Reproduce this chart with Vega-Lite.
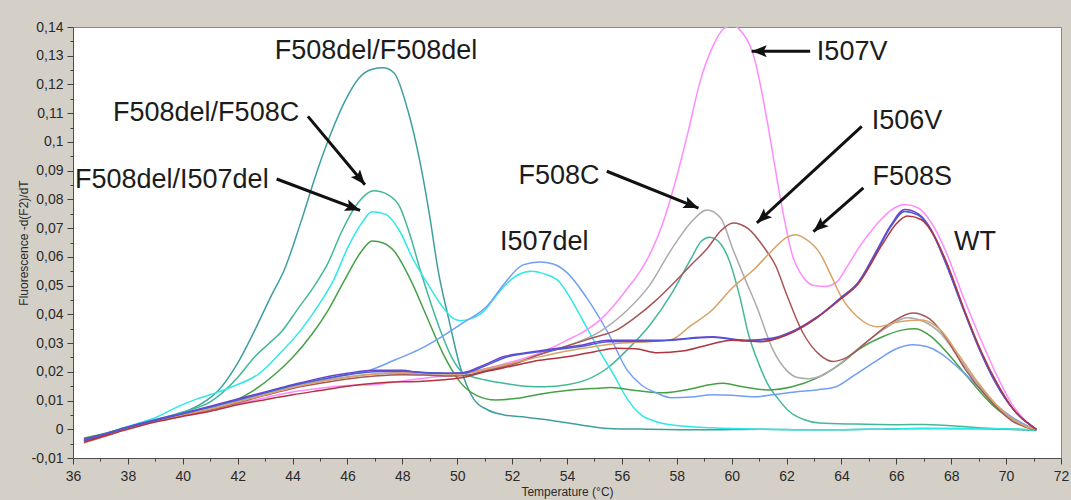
{
"$schema": "https://vega.github.io/schema/vega-lite/v6.json",
"width": 988, "height": 431,
"autosize": {"type": "none"},
"padding": {"left": 73, "top": 27, "right": 10, "bottom": 42},
"background": "#d4d0c8",
"config": {
 "view": {"fill": "#ffffff", "stroke": "#8a8a8a", "strokeWidth": 1},
 "axis": {"grid": false, "domainColor": "#505050", "tickColor": "#404040", "labelFont": "Liberation Sans", "labelFontSize": 14, "labelColor": "#2a2a2a", "titleFont": "Liberation Sans", "titleFontSize": 12, "titleFontWeight": "normal", "titleColor": "#2a2a2a", "labelOverlap": false, "labelFlush": false}
},
"resolve": {"axis": {"x": "independent", "y": "independent"}},
"datasets": {
"curves": [
{"s":"F508del/F508del","t":36.4,"v":-0.0042},{"s":"F508del/F508del","t":37,"v":-0.0025},{"s":"F508del/F508del","t":38,"v":0.0005},{"s":"F508del/F508del","t":39,"v":0.003},{"s":"F508del/F508del","t":40,"v":0.0058},{"s":"F508del/F508del","t":40.7,"v":0.009},{"s":"F508del/F508del","t":41.3,"v":0.0135},{"s":"F508del/F508del","t":42,"v":0.023},{"s":"F508del/F508del","t":42.6,"v":0.034},{"s":"F508del/F508del","t":43.2,"v":0.046},{"s":"F508del/F508del","t":43.7,"v":0.0555},{"s":"F508del/F508del","t":44.3,"v":0.072},{"s":"F508del/F508del","t":44.9,"v":0.09},{"s":"F508del/F508del","t":45.4,"v":0.103},{"s":"F508del/F508del","t":45.9,"v":0.114},{"s":"F508del/F508del","t":46.4,"v":0.122},{"s":"F508del/F508del","t":46.9,"v":0.1253},{"s":"F508del/F508del","t":47.3,"v":0.1258},{"s":"F508del/F508del","t":47.7,"v":0.124},{"s":"F508del/F508del","t":48.2,"v":0.111},{"s":"F508del/F508del","t":48.65,"v":0.0927},{"s":"F508del/F508del","t":49,"v":0.074},{"s":"F508del/F508del","t":49.3,"v":0.0555},{"s":"F508del/F508del","t":49.7,"v":0.038},{"s":"F508del/F508del","t":50.1,"v":0.022},{"s":"F508del/F508del","t":50.6,"v":0.0105},{"s":"F508del/F508del","t":51.1,"v":0.0068},{"s":"F508del/F508del","t":51.7,"v":0.005},{"s":"F508del/F508del","t":52.5,"v":0.0042},{"s":"F508del/F508del","t":53.5,"v":0.003},{"s":"F508del/F508del","t":54.5,"v":0.0015},{"s":"F508del/F508del","t":55.5,"v":0.0003},{"s":"F508del/F508del","t":57,"v":0},{"s":"F508del/F508del","t":59,"v":-0.0002},{"s":"F508del/F508del","t":61,"v":0},{"s":"F508del/F508del","t":63,"v":-0.0002},{"s":"F508del/F508del","t":65,"v":0},{"s":"F508del/F508del","t":67,"v":0.0003},{"s":"F508del/F508del","t":69,"v":0.0002},{"s":"F508del/F508del","t":70.5,"v":-0.0002},{"s":"F508del/F508del","t":71.1,"v":-0.0004},
{"s":"F508del/F508C","t":36.4,"v":-0.0035},{"s":"F508del/F508C","t":37,"v":-0.002},{"s":"F508del/F508C","t":38,"v":0.0008},{"s":"F508del/F508C","t":39,"v":0.0033},{"s":"F508del/F508C","t":40,"v":0.006},{"s":"F508del/F508C","t":41,"v":0.0095},{"s":"F508del/F508C","t":42,"v":0.018},{"s":"F508del/F508C","t":42.6,"v":0.025},{"s":"F508del/F508C","t":43.1,"v":0.0295},{"s":"F508del/F508C","t":43.6,"v":0.034},{"s":"F508del/F508C","t":44.2,"v":0.042},{"s":"F508del/F508C","t":44.8,"v":0.05},{"s":"F508del/F508C","t":45.3,"v":0.058},{"s":"F508del/F508C","t":45.8,"v":0.069},{"s":"F508del/F508C","t":46.4,"v":0.079},{"s":"F508del/F508C","t":46.95,"v":0.083},{"s":"F508del/F508C","t":47.5,"v":0.0815},{"s":"F508del/F508C","t":47.9,"v":0.0775},{"s":"F508del/F508C","t":48.3,"v":0.067},{"s":"F508del/F508C","t":48.65,"v":0.0555},{"s":"F508del/F508C","t":49,"v":0.045},{"s":"F508del/F508C","t":49.4,"v":0.034},{"s":"F508del/F508C","t":49.8,"v":0.025},{"s":"F508del/F508C","t":50.2,"v":0.0197},{"s":"F508del/F508C","t":51,"v":0.0172},{"s":"F508del/F508C","t":51.7,"v":0.016},{"s":"F508del/F508C","t":52.5,"v":0.015},{"s":"F508del/F508C","t":53.2,"v":0.0148},{"s":"F508del/F508C","t":54,"v":0.0155},{"s":"F508del/F508C","t":54.7,"v":0.0172},{"s":"F508del/F508C","t":55.5,"v":0.0215},{"s":"F508del/F508C","t":56.2,"v":0.0277},{"s":"F508del/F508C","t":57,"v":0.036},{"s":"F508del/F508C","t":57.8,"v":0.047},{"s":"F508del/F508C","t":58.5,"v":0.059},{"s":"F508del/F508C","t":58.9,"v":0.0655},{"s":"F508del/F508C","t":59.2,"v":0.0668},{"s":"F508del/F508C","t":59.6,"v":0.0645},{"s":"F508del/F508C","t":59.9,"v":0.059},{"s":"F508del/F508C","t":60.3,"v":0.046},{"s":"F508del/F508C","t":60.6,"v":0.0335},{"s":"F508del/F508C","t":61,"v":0.0225},{"s":"F508del/F508C","t":61.3,"v":0.016},{"s":"F508del/F508C","t":61.7,"v":0.0105},{"s":"F508del/F508C","t":62.1,"v":0.0062},{"s":"F508del/F508C","t":62.6,"v":0.0035},{"s":"F508del/F508C","t":63.2,"v":0.0022},{"s":"F508del/F508C","t":64.5,"v":0.0018},{"s":"F508del/F508C","t":66,"v":0.0016},{"s":"F508del/F508C","t":67,"v":0.0017},{"s":"F508del/F508C","t":68,"v":0.0012},{"s":"F508del/F508C","t":69.5,"v":0.0003},{"s":"F508del/F508C","t":70.5,"v":0},{"s":"F508del/F508C","t":71.1,"v":-0.0003},
{"s":"F508del/I507del","t":36.4,"v":-0.0038},{"s":"F508del/I507del","t":37,"v":-0.0022},{"s":"F508del/I507del","t":38,"v":0.001},{"s":"F508del/I507del","t":39,"v":0.004},{"s":"F508del/I507del","t":39.8,"v":0.0078},{"s":"F508del/I507del","t":40.5,"v":0.0105},{"s":"F508del/I507del","t":41,"v":0.012},{"s":"F508del/I507del","t":41.8,"v":0.0148},{"s":"F508del/I507del","t":42.8,"v":0.0195},{"s":"F508del/I507del","t":43.5,"v":0.026},{"s":"F508del/I507del","t":44.3,"v":0.0345},{"s":"F508del/I507del","t":45,"v":0.044},{"s":"F508del/I507del","t":45.5,"v":0.052},{"s":"F508del/I507del","t":46,"v":0.063},{"s":"F508del/I507del","t":46.5,"v":0.0715},{"s":"F508del/I507del","t":46.9,"v":0.0757},{"s":"F508del/I507del","t":47.4,"v":0.0748},{"s":"F508del/I507del","t":47.9,"v":0.069},{"s":"F508del/I507del","t":48.4,"v":0.059},{"s":"F508del/I507del","t":48.9,"v":0.051},{"s":"F508del/I507del","t":49.4,"v":0.0435},{"s":"F508del/I507del","t":49.8,"v":0.039},{"s":"F508del/I507del","t":50.1,"v":0.0378},{"s":"F508del/I507del","t":50.5,"v":0.0385},{"s":"F508del/I507del","t":50.9,"v":0.0405},{"s":"F508del/I507del","t":51.3,"v":0.045},{"s":"F508del/I507del","t":51.7,"v":0.0497},{"s":"F508del/I507del","t":52.2,"v":0.0537},{"s":"F508del/I507del","t":52.7,"v":0.055},{"s":"F508del/I507del","t":53.2,"v":0.054},{"s":"F508del/I507del","t":53.7,"v":0.0515},{"s":"F508del/I507del","t":54.1,"v":0.046},{"s":"F508del/I507del","t":54.7,"v":0.0357},{"s":"F508del/I507del","t":55.2,"v":0.027},{"s":"F508del/I507del","t":55.7,"v":0.019},{"s":"F508del/I507del","t":56.2,"v":0.0105},{"s":"F508del/I507del","t":56.7,"v":0.005},{"s":"F508del/I507del","t":57.2,"v":0.0028},{"s":"F508del/I507del","t":58,"v":0.0013},{"s":"F508del/I507del","t":59.3,"v":0.0005},{"s":"F508del/I507del","t":61,"v":0},{"s":"F508del/I507del","t":63,"v":-0.0002},{"s":"F508del/I507del","t":65,"v":0},{"s":"F508del/I507del","t":67,"v":0.0003},{"s":"F508del/I507del","t":69,"v":0.0003},{"s":"F508del/I507del","t":70.5,"v":0},{"s":"F508del/I507del","t":71.1,"v":-0.0003},
{"s":"green","t":36.4,"v":-0.003},{"s":"green","t":37,"v":-0.0018},{"s":"green","t":38,"v":0.0008},{"s":"green","t":39,"v":0.003},{"s":"green","t":40,"v":0.005},{"s":"green","t":41,"v":0.007},{"s":"green","t":41.8,"v":0.0095},{"s":"green","t":42.5,"v":0.013},{"s":"green","t":43.4,"v":0.0195},{"s":"green","t":44,"v":0.025},{"s":"green","t":44.7,"v":0.033},{"s":"green","t":45.3,"v":0.0415},{"s":"green","t":45.9,"v":0.052},{"s":"green","t":46.5,"v":0.0618},{"s":"green","t":46.9,"v":0.0655},{"s":"green","t":47.3,"v":0.0648},{"s":"green","t":47.7,"v":0.062},{"s":"green","t":48.3,"v":0.052},{"s":"green","t":48.9,"v":0.039},{"s":"green","t":49.5,"v":0.026},{"s":"green","t":50.1,"v":0.0165},{"s":"green","t":50.7,"v":0.0118},{"s":"green","t":51.4,"v":0.0102},{"s":"green","t":52.2,"v":0.0108},{"s":"green","t":53,"v":0.0122},{"s":"green","t":54,"v":0.0135},{"s":"green","t":55,"v":0.0142},{"s":"green","t":55.6,"v":0.0145},{"s":"green","t":56.5,"v":0.0135},{"s":"green","t":57.5,"v":0.0127},{"s":"green","t":58.5,"v":0.014},{"s":"green","t":59.2,"v":0.0155},{"s":"green","t":59.7,"v":0.016},{"s":"green","t":60.3,"v":0.015},{"s":"green","t":61.3,"v":0.0137},{"s":"green","t":62.2,"v":0.0148},{"s":"green","t":63.1,"v":0.0178},{"s":"green","t":64,"v":0.023},{"s":"green","t":64.6,"v":0.0276},{"s":"green","t":65.5,"v":0.0322},{"s":"green","t":66.2,"v":0.0345},{"s":"green","t":66.7,"v":0.035},{"s":"green","t":67.3,"v":0.032},{"s":"green","t":68,"v":0.025},{"s":"green","t":68.7,"v":0.017},{"s":"green","t":69.5,"v":0.0085},{"s":"green","t":70.3,"v":0.003},{"s":"green","t":71.1,"v":-0.0002},
{"s":"I507del","t":36.4,"v":-0.0038},{"s":"I507del","t":37,"v":-0.0022},{"s":"I507del","t":38,"v":0.0008},{"s":"I507del","t":39,"v":0.003},{"s":"I507del","t":40,"v":0.0055},{"s":"I507del","t":41,"v":0.0075},{"s":"I507del","t":42,"v":0.0098},{"s":"I507del","t":43,"v":0.0125},{"s":"I507del","t":44,"v":0.015},{"s":"I507del","t":45,"v":0.017},{"s":"I507del","t":46,"v":0.019},{"s":"I507del","t":46.8,"v":0.0205},{"s":"I507del","t":47.7,"v":0.024},{"s":"I507del","t":48.6,"v":0.0277},{"s":"I507del","t":49.4,"v":0.032},{"s":"I507del","t":50.2,"v":0.037},{"s":"I507del","t":51.1,"v":0.043},{"s":"I507del","t":51.7,"v":0.0505},{"s":"I507del","t":52.4,"v":0.0572},{"s":"I507del","t":53,"v":0.0582},{"s":"I507del","t":53.5,"v":0.0575},{"s":"I507del","t":54,"v":0.0545},{"s":"I507del","t":54.7,"v":0.046},{"s":"I507del","t":55.5,"v":0.0335},{"s":"I507del","t":56.2,"v":0.0205},{"s":"I507del","t":56.7,"v":0.0155},{"s":"I507del","t":57.3,"v":0.0125},{"s":"I507del","t":57.8,"v":0.011},{"s":"I507del","t":58.5,"v":0.0112},{"s":"I507del","t":59.3,"v":0.012},{"s":"I507del","t":60,"v":0.0118},{"s":"I507del","t":60.8,"v":0.0113},{"s":"I507del","t":61.5,"v":0.012},{"s":"I507del","t":62.3,"v":0.013},{"s":"I507del","t":63.1,"v":0.0137},{"s":"I507del","t":63.8,"v":0.0148},{"s":"I507del","t":64.5,"v":0.019},{"s":"I507del","t":65.3,"v":0.024},{"s":"I507del","t":66,"v":0.028},{"s":"I507del","t":66.6,"v":0.0294},{"s":"I507del","t":67.1,"v":0.0288},{"s":"I507del","t":67.6,"v":0.0265},{"s":"I507del","t":68.3,"v":0.021},{"s":"I507del","t":69.1,"v":0.0137},{"s":"I507del","t":69.7,"v":0.008},{"s":"I507del","t":70.2,"v":0.0043},{"s":"I507del","t":71.1,"v":-0.0003},
{"s":"I507V","t":36.4,"v":-0.0045},{"s":"I507V","t":37,"v":-0.003},{"s":"I507V","t":38,"v":0.0003},{"s":"I507V","t":39,"v":0.0028},{"s":"I507V","t":40,"v":0.0045},{"s":"I507V","t":41,"v":0.0063},{"s":"I507V","t":42,"v":0.0088},{"s":"I507V","t":43,"v":0.011},{"s":"I507V","t":44,"v":0.013},{"s":"I507V","t":45,"v":0.0143},{"s":"I507V","t":46,"v":0.0152},{"s":"I507V","t":47,"v":0.0156},{"s":"I507V","t":48,"v":0.0168},{"s":"I507V","t":49,"v":0.018},{"s":"I507V","t":50,"v":0.019},{"s":"I507V","t":51,"v":0.021},{"s":"I507V","t":52,"v":0.0235},{"s":"I507V","t":53,"v":0.0265},{"s":"I507V","t":54,"v":0.031},{"s":"I507V","t":54.7,"v":0.0345},{"s":"I507V","t":55.2,"v":0.038},{"s":"I507V","t":55.7,"v":0.043},{"s":"I507V","t":56.2,"v":0.049},{"s":"I507V","t":56.7,"v":0.0555},{"s":"I507V","t":57.1,"v":0.0625},{"s":"I507V","t":57.5,"v":0.072},{"s":"I507V","t":57.9,"v":0.0845},{"s":"I507V","t":58.4,"v":0.103},{"s":"I507V","t":58.85,"v":0.121},{"s":"I507V","t":59.3,"v":0.133},{"s":"I507V","t":59.7,"v":0.1393},{"s":"I507V","t":60,"v":0.1405},{"s":"I507V","t":60.3,"v":0.139},{"s":"I507V","t":60.8,"v":0.13},{"s":"I507V","t":61.3,"v":0.107},{"s":"I507V","t":61.6,"v":0.09},{"s":"I507V","t":61.9,"v":0.074},{"s":"I507V","t":62.2,"v":0.061},{"s":"I507V","t":62.6,"v":0.053},{"s":"I507V","t":63,"v":0.05},{"s":"I507V","t":63.4,"v":0.0497},{"s":"I507V","t":63.8,"v":0.051},{"s":"I507V","t":64.2,"v":0.0565},{"s":"I507V","t":64.6,"v":0.0627},{"s":"I507V","t":65.3,"v":0.0715},{"s":"I507V","t":65.8,"v":0.0762},{"s":"I507V","t":66.3,"v":0.0782},{"s":"I507V","t":66.8,"v":0.077},{"s":"I507V","t":67.3,"v":0.0715},{"s":"I507V","t":67.8,"v":0.062},{"s":"I507V","t":68.4,"v":0.047},{"s":"I507V","t":69,"v":0.033},{"s":"I507V","t":69.6,"v":0.02},{"s":"I507V","t":70.2,"v":0.009},{"s":"I507V","t":70.7,"v":0.003},{"s":"I507V","t":71.1,"v":0},
{"s":"F508C","t":36.4,"v":-0.0038},{"s":"F508C","t":37,"v":-0.0022},{"s":"F508C","t":38,"v":0.0005},{"s":"F508C","t":39,"v":0.003},{"s":"F508C","t":40,"v":0.0052},{"s":"F508C","t":41,"v":0.0072},{"s":"F508C","t":42,"v":0.0098},{"s":"F508C","t":43,"v":0.0123},{"s":"F508C","t":44,"v":0.0148},{"s":"F508C","t":45,"v":0.0168},{"s":"F508C","t":46,"v":0.0183},{"s":"F508C","t":47,"v":0.0192},{"s":"F508C","t":48,"v":0.0195},{"s":"F508C","t":49,"v":0.0192},{"s":"F508C","t":50,"v":0.0193},{"s":"F508C","t":51,"v":0.0205},{"s":"F508C","t":52,"v":0.0228},{"s":"F508C","t":53,"v":0.026},{"s":"F508C","t":54,"v":0.029},{"s":"F508C","t":55.2,"v":0.034},{"s":"F508C","t":56.2,"v":0.0415},{"s":"F508C","t":57,"v":0.05},{"s":"F508C","t":57.8,"v":0.0625},{"s":"F508C","t":58.5,"v":0.0718},{"s":"F508C","t":59.1,"v":0.0763},{"s":"F508C","t":59.6,"v":0.0735},{"s":"F508C","t":60.05,"v":0.0625},{"s":"F508C","t":60.5,"v":0.052},{"s":"F508C","t":60.9,"v":0.043},{"s":"F508C","t":61.5,"v":0.0277},{"s":"F508C","t":62,"v":0.0205},{"s":"F508C","t":62.4,"v":0.018},{"s":"F508C","t":62.8,"v":0.0176},{"s":"F508C","t":63.3,"v":0.0187},{"s":"F508C","t":64,"v":0.0232},{"s":"F508C","t":64.6,"v":0.028},{"s":"F508C","t":65.5,"v":0.0345},{"s":"F508C","t":66.4,"v":0.0388},{"s":"F508C","t":67,"v":0.0375},{"s":"F508C","t":67.6,"v":0.0335},{"s":"F508C","t":68.3,"v":0.0245},{"s":"F508C","t":69,"v":0.0155},{"s":"F508C","t":69.8,"v":0.0065},{"s":"F508C","t":70.5,"v":0.002},{"s":"F508C","t":71.1,"v":-0.0002},
{"s":"I506V","t":36.4,"v":-0.004},{"s":"I506V","t":37,"v":-0.0025},{"s":"I506V","t":38,"v":0.0003},{"s":"I506V","t":39,"v":0.0028},{"s":"I506V","t":40,"v":0.005},{"s":"I506V","t":41,"v":0.0068},{"s":"I506V","t":42,"v":0.0092},{"s":"I506V","t":43,"v":0.0118},{"s":"I506V","t":44,"v":0.0142},{"s":"I506V","t":45,"v":0.016},{"s":"I506V","t":46,"v":0.0175},{"s":"I506V","t":47,"v":0.0185},{"s":"I506V","t":48,"v":0.019},{"s":"I506V","t":49,"v":0.0188},{"s":"I506V","t":50,"v":0.0185},{"s":"I506V","t":51,"v":0.0202},{"s":"I506V","t":52,"v":0.0225},{"s":"I506V","t":53,"v":0.026},{"s":"I506V","t":54,"v":0.029},{"s":"I506V","t":55,"v":0.032},{"s":"I506V","t":55.8,"v":0.0345},{"s":"I506V","t":56.5,"v":0.039},{"s":"I506V","t":57.2,"v":0.0445},{"s":"I506V","t":57.9,"v":0.051},{"s":"I506V","t":58.5,"v":0.057},{"s":"I506V","t":59.1,"v":0.0628},{"s":"I506V","t":59.6,"v":0.069},{"s":"I506V","t":60.05,"v":0.0718},{"s":"I506V","t":60.6,"v":0.0698},{"s":"I506V","t":61.2,"v":0.063},{"s":"I506V","t":61.6,"v":0.057},{"s":"I506V","t":62,"v":0.047},{"s":"I506V","t":62.6,"v":0.0335},{"s":"I506V","t":63.2,"v":0.026},{"s":"I506V","t":63.7,"v":0.0236},{"s":"I506V","t":64.2,"v":0.025},{"s":"I506V","t":65,"v":0.031},{"s":"I506V","t":65.8,"v":0.037},{"s":"I506V","t":66.6,"v":0.0405},{"s":"I506V","t":67.2,"v":0.0385},{"s":"I506V","t":67.8,"v":0.032},{"s":"I506V","t":68.5,"v":0.021},{"s":"I506V","t":69.3,"v":0.0112},{"s":"I506V","t":70.2,"v":0.003},{"s":"I506V","t":71.1,"v":-0.0003},
{"s":"F508S","t":36.4,"v":-0.0048},{"s":"F508S","t":37,"v":-0.003},{"s":"F508S","t":38,"v":0.0003},{"s":"F508S","t":39,"v":0.0028},{"s":"F508S","t":40,"v":0.005},{"s":"F508S","t":41,"v":0.007},{"s":"F508S","t":42,"v":0.0095},{"s":"F508S","t":43,"v":0.012},{"s":"F508S","t":44,"v":0.0145},{"s":"F508S","t":45,"v":0.0165},{"s":"F508S","t":46,"v":0.018},{"s":"F508S","t":47,"v":0.0192},{"s":"F508S","t":48,"v":0.0198},{"s":"F508S","t":49,"v":0.0195},{"s":"F508S","t":50,"v":0.0192},{"s":"F508S","t":51,"v":0.021},{"s":"F508S","t":52,"v":0.023},{"s":"F508S","t":53,"v":0.0252},{"s":"F508S","t":54,"v":0.0272},{"s":"F508S","t":55,"v":0.0288},{"s":"F508S","t":56,"v":0.03},{"s":"F508S","t":57,"v":0.0305},{"s":"F508S","t":57.8,"v":0.0312},{"s":"F508S","t":58.5,"v":0.036},{"s":"F508S","t":59.3,"v":0.0416},{"s":"F508S","t":60,"v":0.049},{"s":"F508S","t":60.8,"v":0.0555},{"s":"F508S","t":61.5,"v":0.0625},{"s":"F508S","t":62,"v":0.0668},{"s":"F508S","t":62.3,"v":0.0677},{"s":"F508S","t":62.7,"v":0.0662},{"s":"F508S","t":63.2,"v":0.0615},{"s":"F508S","t":63.6,"v":0.054},{"s":"F508S","t":64,"v":0.046},{"s":"F508S","t":64.6,"v":0.039},{"s":"F508S","t":65.3,"v":0.0357},{"s":"F508S","t":66.1,"v":0.0374},{"s":"F508S","t":66.9,"v":0.038},{"s":"F508S","t":67.6,"v":0.0346},{"s":"F508S","t":68.3,"v":0.0255},{"s":"F508S","t":69,"v":0.016},{"s":"F508S","t":69.8,"v":0.007},{"s":"F508S","t":70.5,"v":0.002},{"s":"F508S","t":71.1,"v":-0.0002},
{"s":"WT-1","t":36.4,"v":-0.0035},{"s":"WT-1","t":37,"v":-0.002},{"s":"WT-1","t":38,"v":0.0008},{"s":"WT-1","t":39,"v":0.0033},{"s":"WT-1","t":40,"v":0.0056},{"s":"WT-1","t":41,"v":0.008},{"s":"WT-1","t":42,"v":0.0105},{"s":"WT-1","t":43,"v":0.013},{"s":"WT-1","t":44,"v":0.0155},{"s":"WT-1","t":45,"v":0.0178},{"s":"WT-1","t":46,"v":0.0195},{"s":"WT-1","t":47,"v":0.0205},{"s":"WT-1","t":48,"v":0.0205},{"s":"WT-1","t":48.6,"v":0.0198},{"s":"WT-1","t":49.5,"v":0.0195},{"s":"WT-1","t":50.2,"v":0.0197},{"s":"WT-1","t":51,"v":0.0225},{"s":"WT-1","t":51.7,"v":0.0253},{"s":"WT-1","t":52.5,"v":0.0266},{"s":"WT-1","t":53.2,"v":0.0276},{"s":"WT-1","t":54.5,"v":0.0292},{"s":"WT-1","t":55.5,"v":0.031},{"s":"WT-1","t":56.5,"v":0.031},{"s":"WT-1","t":57.5,"v":0.031},{"s":"WT-1","t":58.5,"v":0.0318},{"s":"WT-1","t":59.3,"v":0.0322},{"s":"WT-1","t":60.5,"v":0.031},{"s":"WT-1","t":61.5,"v":0.0318},{"s":"WT-1","t":62.3,"v":0.0345},{"s":"WT-1","t":63.1,"v":0.039},{"s":"WT-1","t":64,"v":0.046},{"s":"WT-1","t":64.6,"v":0.051},{"s":"WT-1","t":65.3,"v":0.0625},{"s":"WT-1","t":65.8,"v":0.071},{"s":"WT-1","t":66.3,"v":0.0765},{"s":"WT-1","t":66.8,"v":0.075},{"s":"WT-1","t":67.3,"v":0.069},{"s":"WT-1","t":67.8,"v":0.058},{"s":"WT-1","t":68.4,"v":0.043},{"s":"WT-1","t":69,"v":0.0285},{"s":"WT-1","t":69.6,"v":0.0165},{"s":"WT-1","t":70.3,"v":0.0065},{"s":"WT-1","t":71.1,"v":0},
{"s":"WT-2","t":36.4,"v":-0.004},{"s":"WT-2","t":37,"v":-0.0022},{"s":"WT-2","t":38,"v":0.0006},{"s":"WT-2","t":39,"v":0.003},{"s":"WT-2","t":40,"v":0.0054},{"s":"WT-2","t":41,"v":0.0077},{"s":"WT-2","t":42,"v":0.0102},{"s":"WT-2","t":43,"v":0.0127},{"s":"WT-2","t":44,"v":0.0152},{"s":"WT-2","t":45,"v":0.0173},{"s":"WT-2","t":46,"v":0.019},{"s":"WT-2","t":47,"v":0.02},{"s":"WT-2","t":48,"v":0.0202},{"s":"WT-2","t":49,"v":0.0197},{"s":"WT-2","t":50.2,"v":0.0195},{"s":"WT-2","t":51,"v":0.022},{"s":"WT-2","t":51.7,"v":0.0248},{"s":"WT-2","t":53.2,"v":0.0272},{"s":"WT-2","t":54.5,"v":0.0288},{"s":"WT-2","t":55.5,"v":0.0305},{"s":"WT-2","t":57.5,"v":0.0308},{"s":"WT-2","t":59.3,"v":0.032},{"s":"WT-2","t":60.5,"v":0.0308},{"s":"WT-2","t":61.5,"v":0.0315},{"s":"WT-2","t":62.3,"v":0.0342},{"s":"WT-2","t":63.1,"v":0.0388},{"s":"WT-2","t":64,"v":0.0458},{"s":"WT-2","t":64.6,"v":0.0508},{"s":"WT-2","t":65.3,"v":0.062},{"s":"WT-2","t":65.8,"v":0.0705},{"s":"WT-2","t":66.3,"v":0.0758},{"s":"WT-2","t":66.8,"v":0.0745},{"s":"WT-2","t":67.3,"v":0.0685},{"s":"WT-2","t":67.8,"v":0.0578},{"s":"WT-2","t":68.4,"v":0.0428},{"s":"WT-2","t":69,"v":0.0285},{"s":"WT-2","t":69.6,"v":0.0165},{"s":"WT-2","t":70.3,"v":0.0065},{"s":"WT-2","t":71.1,"v":0},
{"s":"WT-3","t":36.4,"v":-0.0045},{"s":"WT-3","t":37,"v":-0.0028},{"s":"WT-3","t":38,"v":0},{"s":"WT-3","t":39,"v":0.0025},{"s":"WT-3","t":40,"v":0.0045},{"s":"WT-3","t":41,"v":0.0063},{"s":"WT-3","t":42,"v":0.0085},{"s":"WT-3","t":43,"v":0.0103},{"s":"WT-3","t":44,"v":0.012},{"s":"WT-3","t":45,"v":0.0135},{"s":"WT-3","t":46,"v":0.015},{"s":"WT-3","t":47,"v":0.016},{"s":"WT-3","t":48,"v":0.0165},{"s":"WT-3","t":48.6,"v":0.0166},{"s":"WT-3","t":49.5,"v":0.0172},{"s":"WT-3","t":50.3,"v":0.0182},{"s":"WT-3","t":51,"v":0.02},{"s":"WT-3","t":52,"v":0.022},{"s":"WT-3","t":53,"v":0.024},{"s":"WT-3","t":54,"v":0.0252},{"s":"WT-3","t":55,"v":0.027},{"s":"WT-3","t":55.8,"v":0.0282},{"s":"WT-3","t":56.5,"v":0.028},{"s":"WT-3","t":57.3,"v":0.0266},{"s":"WT-3","t":58.2,"v":0.0272},{"s":"WT-3","t":59,"v":0.029},{"s":"WT-3","t":60,"v":0.031},{"s":"WT-3","t":61.1,"v":0.0305},{"s":"WT-3","t":62,"v":0.0328},{"s":"WT-3","t":63.1,"v":0.0388},{"s":"WT-3","t":64,"v":0.0455},{"s":"WT-3","t":64.6,"v":0.0505},{"s":"WT-3","t":65.5,"v":0.0645},{"s":"WT-3","t":66,"v":0.0715},{"s":"WT-3","t":66.4,"v":0.0742},{"s":"WT-3","t":66.9,"v":0.073},{"s":"WT-3","t":67.4,"v":0.067},{"s":"WT-3","t":67.9,"v":0.0565},{"s":"WT-3","t":68.5,"v":0.041},{"s":"WT-3","t":69.1,"v":0.027},{"s":"WT-3","t":69.7,"v":0.0155},{"s":"WT-3","t":70.3,"v":0.0065},{"s":"WT-3","t":71.1,"v":0}
],
"labels": [
{"label":"F508del/F508del","t":47.04,"v":0.1315},
{"label":"F508del/F508C","t":40.85,"v":0.1099},
{"label":"F508del/I507del","t":39.6,"v":0.0868},
{"label":"I507del","t":53.17,"v":0.0653},
{"label":"F508C","t":53.71,"v":0.0883},
{"label":"I507V","t":64.39,"v":0.1313},
{"label":"I506V","t":66.39,"v":0.1074},
{"label":"F508S","t":66.58,"v":0.0879},
{"label":"WT","t":68.87,"v":0.0653}
],
"arrows": [
{"t":44.56,"v":0.1089,"t2":46.64,"v2":0.0851},
{"t":43.42,"v":0.0871,"t2":46.46,"v2":0.0762},
{"t":55.45,"v":0.0898,"t2":58.79,"v2":0.077},
{"t":64.74,"v":0.1054,"t2":60.92,"v2":0.0718},
{"t":64.8,"v":0.084,"t2":62.98,"v2":0.0688},
{"t":62.86,"v":0.1316,"t2":60.73,"v2":0.1316}
]
},
"layer": [
{
 "data": {"name": "curves"},
 "mark": {"type": "line", "interpolate": "monotone", "strokeWidth": 1.5, "clip": true},
 "encoding": {
  "x": {"field": "t", "type": "quantitative", "scale": {"domain": [36, 72], "nice": false, "zero": false},
   "axis": {"orient": "bottom", "title": "Temperature (°C)", "values": [36,38,40,42,44,46,48,50,52,54,56,58,60,62,64,66,68,70,72],
    "tickSize": 6, "labelPadding": 5, "titleY": 28, "titleBaseline": "top"}},
  "y": {"field": "v", "type": "quantitative", "scale": {"domain": [-0.01, 0.14], "nice": false, "zero": false},
   "axis": {"orient": "left", "title": "Fluorescence -d(F2)/dT", "values": [-0.01,0,0.01,0.02,0.03,0.04,0.05,0.06,0.07,0.08,0.09,0.1,0.11,0.12,0.13,0.14],
    "tickSize": 6,
    "labelExpr": "replace(replace(format(datum.value, '.2~f'), '.', ','), '\u2212', '-')",
    "labelPadding": 4, "titleX": -50, "titleY": 215.5, "titleAngle": -90, "titleAlign": "center", "titleBaseline": "middle"}},
  "color": {"field": "s", "type": "nominal", "legend": null,
   "scale": {"domain": ["F508del/F508del","F508del/F508C","F508del/I507del","green","I507del","I507V","F508C","I506V","F508S","WT-1","WT-2","WT-3"],
    "range": ["#3f9f9f","#42b898","#2ee8e8","#46a046","#719ef6","#ff8bff","#ababab","#a65656","#d8a268","#6e42c6","#4a58dc","#b2343c"]}}
 }
},
{
 "data": {"name": "arrows"},
 "mark": {"type": "rule", "strokeWidth": 3, "color": "#111111"},
 "encoding": {
  "x": {"field": "t", "type": "quantitative", "axis": null},
  "y": {"field": "v", "type": "quantitative", "axis": null},
  "x2": {"field": "t2"},
  "y2": {"field": "v2"}
 }
},
{
 "data": {"name": "arrows"},
 "transform": [{"calculate": "atan2((datum.t2-datum.t)*27.444, (datum.v2-datum.v)*2873.3)*180/PI", "as": "ang"}],
 "mark": {"type": "point", "shape": "M0,0 L0.8,2 L0,1.6 L-0.8,2 Z", "filled": true, "color": "#111111", "size": 225, "opacity": 1, "strokeWidth": 0},
 "encoding": {
  "x": {"field": "t2", "type": "quantitative", "axis": null},
  "y": {"field": "v2", "type": "quantitative", "axis": null},
  "angle": {"field": "ang", "type": "quantitative", "scale": null}
 }
},
{
 "data": {"name": "labels"},
 "mark": {"type": "text", "font": "Liberation Sans", "fontSize": 27, "color": "#1c1c1c", "align": "center", "baseline": "middle"},
 "encoding": {
  "x": {"field": "t", "type": "quantitative",
   "axis": {"orient": "bottom", "title": null, "labels": false, "domain": false, "tickSize": 3, "values": [37,39,41,43,45,47,49,51,53,55,57,59,61,63,65,67,69,71]}},
  "y": {"field": "v", "type": "quantitative",
   "axis": {"orient": "left", "title": null, "labels": false, "domain": false, "tickSize": 3, "values": [-0.005,0.005,0.015,0.025,0.035,0.045,0.055,0.065,0.075,0.085,0.095,0.105,0.115,0.125,0.135]}},
  "text": {"field": "label", "type": "nominal"}
 }
}
]
}
